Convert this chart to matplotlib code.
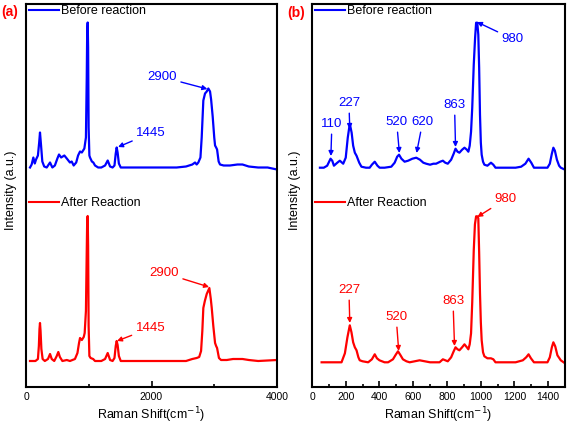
import matplotlib
matplotlib.use("Agg")
import matplotlib.pyplot as plt
import numpy as np

plt.rcParams['font.family'] = ['Liberation Sans', 'DejaVu Sans']

BLUE = '#0000FF'
RED = '#FF0000'

# ---------------- data (heights above own baseline, arbitrary units) ----------------
# Panel (a): full range spectra
a_before_x = [64, 90, 117, 140, 160, 190, 210, 223, 240, 260, 290, 330, 383, 420, 460, 500, 526, 560,
              611, 650, 700, 728, 760, 800, 830, 861, 890, 930, 955, 968, 975, 983, 990, 998, 1010,
              1020, 1050, 1073, 1100, 1150, 1200, 1260, 1302, 1340, 1380, 1410, 1430, 1445, 1460,
              1480, 1510, 1600, 1800, 2000, 2200, 2400, 2550, 2650, 2694, 2720, 2746, 2780, 2800,
              2826, 2853, 2880, 2906, 2933, 2950, 2975, 3000, 3013, 3030, 3045, 3070, 3092, 3150,
              3250, 3370, 3450, 3550, 3700, 3850, 4000]
a_before_y = [0, 3, 10, 4, 8, 12, 25, 35, 22, 6, 1, 0, 5, 0, 2, 9, 13, 10,
              12, 9, 5, 6, 2, 5, 12, 16, 15, 19, 30, 90, 135, 145, 120, 40, 12,
              10, 6, 5, 2, 0, 0, 2, 7, 1, 0, 2, 14, 20, 15,
              4, 0, 0, 0, 0, 0, 0, 1, 3, 5, 3, 5, 10, 30,
              67, 74, 76, 79, 76, 68, 51, 30, 22, 20, 18, 6, 3, 2,
              2, 3, 3, 1, 0, 0, -2]

a_after_x = [64, 150, 190, 205, 215, 223, 232, 245, 265, 300, 350, 383, 410, 450, 490, 515, 540, 580,
             650, 700, 780, 820, 845, 861, 890, 920, 935, 955, 968, 975, 983, 990, 998, 1010, 1030,
             1070, 1100, 1200, 1260, 1302, 1340, 1380, 1410, 1430, 1445, 1460, 1480, 1510, 1600,
             1800, 2000, 2200, 2400, 2550, 2650, 2720, 2760, 2790, 2810, 2826, 2850, 2880, 2922,
             2945, 2960, 2985, 3013, 3030, 3045, 3075, 3108, 3200, 3300, 3370, 3450, 3550, 3700, 4000]
a_after_y = [0, 0, 2, 15, 32, 38, 30, 12, 2, 0, 2, 7, 2, 0, 5, 9, 4, 0,
             1, 0, 2, 8, 18, 23, 21, 24, 28, 50, 110, 140, 145, 115, 35, 5, 3,
             2, 0, 0, 2, 8, 1, 0, 3, 15, 20, 16, 5, 0, 0,
             0, 0, 0, 0, 0, 2, 3, 4, 10, 30, 53, 60, 67, 73,
             62, 53, 35, 18, 15, 13, 3, 1, 1, 2, 2, 2, 1, 0, 1]

# Panel (b): low wavenumber region
b_before_x = [47, 70, 90, 110, 120, 130, 150, 165, 185, 200, 212, 224, 235, 244, 254, 264, 280, 293,
              320, 342, 355, 372, 388, 401, 430, 470, 490, 505, 516, 530, 549, 570, 595, 618, 640,
              660, 677, 700, 720, 736, 760, 776, 790, 805, 825, 840, 851, 863, 874, 890, 904, 918,
              927, 935, 943, 950, 959, 967, 973, 980, 986, 991, 996, 1001, 1006, 1014, 1022, 1040,
              1061, 1075, 1088, 1150, 1207, 1240, 1265, 1284, 1300, 1316, 1360, 1396, 1410, 1422,
              1431, 1440, 1452, 1465, 1475, 1500]
b_before_y = [0, 0, 2, 9, 7, 2, 5, 7, 4, 10, 30, 44, 35, 22, 15, 12, 5, 1,
              0, 0, 3, 6, 2, 0, 0, 1, 5, 11, 13, 9, 6, 7, 9, 10, 8,
              5, 4, 3, 4, 4, 6, 7, 5, 4, 8, 14, 19, 16, 15, 18, 20, 18,
              16, 22, 36, 60, 103, 130, 145, 145, 133, 100, 53, 25, 13, 6, 3, 2,
              5, 3, 0, 0, 0, 1, 4, 9, 5, 0, 0, 0, 4, 14,
              20, 17, 8, 2, 0, -2]

b_after_x = [57, 175, 195, 210, 224, 234, 244, 254, 264, 275, 283, 300, 333, 355, 372, 385, 400, 430,
             451, 480, 498, 510, 525, 539, 560, 579, 638, 700, 756, 776, 805, 825, 840, 851, 863,
             874, 890, 904, 918, 927, 935, 943, 950, 959, 966, 973, 980, 986, 991, 996, 1001, 1006,
             1014, 1022, 1040, 1061, 1075, 1088, 1207, 1250, 1270, 1284, 1298, 1316, 1396, 1410,
             1422, 1431, 1442, 1455, 1475, 1500]
b_after_y = [0, 0, 9, 25, 37, 30, 20, 15, 12, 5, 2, 1, 0, 3, 8, 4, 2, 0,
             0, 3, 8, 11, 7, 3, 1, 0, 2, 0, 0, 3, 1, 5, 11, 15, 13,
             12, 15, 18, 15, 13, 18, 29, 60, 112, 138, 146, 146, 144, 110, 69, 40, 22,
             10, 6, 4, 4, 3, 0, 0, 2, 5, 8, 4, 0, 0, 5,
             15, 20, 16, 7, 2, -1]

legend_labels = ['Before reaction', 'After Reaction']
a_ticks = [0, 2000, 4000]
b_ticks = [0, 200, 400, 600, 800, 1000, 1200, 1400]

# ---------------- layout ----------------
W, H = 567, 425
fig = plt.figure(figsize=(W / 100, H / 100), dpi=100)

def fx(px):
    return px / W

def fy(py):
    return 1 - py / H

ax1 = fig.add_axes([fx(26), fy(387), fx(277) - fx(26), fy(4) - fy(387)])
ax2 = fig.add_axes([fx(312), fy(387), fx(565) - fx(312), fy(4) - fy(387)])

off_a = (219.5, 26.0)
off_b = (219.3, 24.7)
LW = 1.6

ax1.plot(a_before_x, np.array(a_before_y) + off_a[0], color=BLUE, lw=LW)
ax1.plot(a_after_x, np.array(a_after_y) + off_a[1], color=RED, lw=LW)
ax2.plot(b_before_x, np.array(b_before_y) + off_b[0], color=BLUE, lw=LW)
ax2.plot(b_after_x, np.array(b_after_y) + off_b[1], color=RED, lw=LW)

ax1.set_xlim(0, 4000)
ax2.set_xlim(0, 1500)
for ax in (ax1, ax2):
    ax.set_ylim(0, 383)
    ax.set_yticks([])
    for s in ax.spines.values():
        s.set_linewidth(1.5)
    ax.tick_params(axis='x', which='both', direction='in', labelsize=7.5, pad=3.5, width=1.2)
    ax.tick_params(axis='x', which='major', length=4)
    ax.tick_params(axis='x', which='minor', length=2.5)

ax1.set_xticks(a_ticks)
ax1.set_xticks([1000, 3000], minor=True)
ax2.set_xticks(b_ticks)
ax2.set_xticks(np.arange(100, 1500, 200), minor=True)

# legends
for ax, off_x in ((ax1, 3 / 251), (ax2, 3 / 253)):
    hb, = ax.plot([], [], color=BLUE, lw=1.5)
    hr, = ax.plot([], [], color=RED, lw=1.5)
    l1 = ax.legend([hb], [legend_labels[0]], loc='center left', bbox_to_anchor=(off_x, (387 - 11) / 383),
                   frameon=False, fontsize=9, handlelength=2.4, handletextpad=0.15,
                   borderpad=0, borderaxespad=0)
    ax.add_artist(l1)
    ax.legend([hr], [legend_labels[1]], loc='center left', bbox_to_anchor=(off_x, (387 - 203) / 383),
              frameon=False, fontsize=9, handlelength=2.4, handletextpad=0.15,
              borderpad=0, borderaxespad=0)

# annotations
def ann(ax, txt, head, tail, color):
    ax.annotate(txt, xy=head, xytext=tail, ha='center', va='center', color=color, fontsize=9.5,
                arrowprops=dict(arrowstyle='-|>', color=color, lw=1.0, mutation_scale=7,
                                shrinkA=1, shrinkB=0))

ann(ax1, '2900', (2890, 298), (2168, 310), BLUE)
ann(ax1, '1445', (1467, 240), (1993, 254), BLUE)
ann(ax1, '2900', (2917, 100), (2200, 114), RED)
ann(ax1, '1445', (1450, 46), (1985, 59), RED)

ann(ax2, '110', (112, 231), (118, 263), BLUE)
ann(ax2, '227', (224, 258), (219, 284), BLUE)
ann(ax2, '520', (518, 234), (502, 265), BLUE)
ann(ax2, '620', (620, 234), (656, 265), BLUE)
ann(ax2, '863', (851, 240), (845, 282), BLUE)
ann(ax2, '980', (978, 365), (1190, 348), BLUE)

ann(ax2, '227', (224, 64), (219, 97), RED)
ann(ax2, '520', (514, 36), (499, 70), RED)
ann(ax2, '863', (845, 41), (836, 86), RED)
ann(ax2, '980', (980, 170), (1149, 188), RED)

# axis labels & panel letters
fig.text(fx(11), fy(190), 'Intensity (a.u.)', rotation=90, ha='center', va='center', fontsize=9)
fig.text(fx(295), fy(190), 'Intensity (a.u.)', rotation=90, ha='center', va='center', fontsize=9)
fig.text(fx(151.5), fy(415), 'Raman Shift(cm$^{-1}$)', ha='center', va='center', fontsize=9)
fig.text(fx(438), fy(415), 'Raman Shift(cm$^{-1}$)', ha='center', va='center', fontsize=9)
fig.text(fx(10), fy(12), '(a)', ha='center', va='center', fontsize=10, fontweight='bold', color=RED)
fig.text(fx(296), fy(13), '(b)', ha='center', va='center', fontsize=10, fontweight='bold', color=RED)

fig.savefig('out.png', dpi=100)
